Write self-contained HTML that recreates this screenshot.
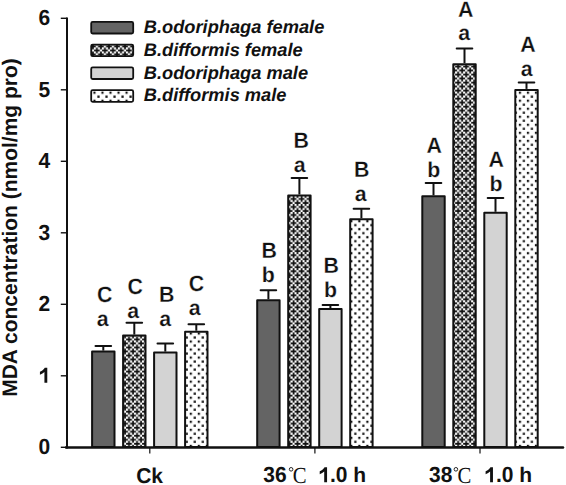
<!DOCTYPE html>
<html><head><meta charset="utf-8"><style>
html,body{margin:0;padding:0;background:#fff;}
svg{display:block;}
text{font-family:"Liberation Sans",sans-serif;text-rendering:geometricPrecision;}
.th{stroke:#fff;stroke-width:0.25px;}
</style></head><body>
<svg width="566" height="485" viewBox="0 0 566 485">
<defs>
<pattern id="px" patternUnits="userSpaceOnUse" width="8.027" height="8.027" x="5.6" y="3.3">
<rect width="8.1" height="8.1" fill="#111"/>
<g fill="#fff"><rect x="-0.1" y="-0.1" width="2.2" height="2.2"/><rect x="3.9" y="-0.1" width="2.2" height="2.2"/><rect x="1.9" y="1.9" width="2.2" height="2.2"/><rect x="-0.1" y="3.9" width="2.2" height="2.2"/><rect x="3.9" y="3.9" width="2.2" height="2.2"/><rect x="5.9" y="5.9" width="2.2" height="2.2"/><rect x="7.927" y="-0.1" width="2.2" height="2.2"/><rect x="7.927" y="3.9" width="2.2" height="2.2"/><rect x="-0.1" y="7.927" width="2.2" height="2.2"/><rect x="3.9" y="7.927" width="2.2" height="2.2"/><rect x="-2.127" y="5.9" width="2.2" height="2.2"/><rect x="5.9" y="-2.127" width="2.2" height="2.2"/></g>
</pattern>
<pattern id="pdot" patternUnits="userSpaceOnUse" width="8.027" height="8.027" x="5.17" y="3.4">
<rect width="8.1" height="8.1" fill="#fff"/>
<g fill="#111"><rect x="-0.1" y="-0.1" width="2.2" height="2.2"/><rect x="3.9" y="3.9" width="2.2" height="2.2"/><rect x="7.927" y="-0.1" width="2.2" height="2.2"/><rect x="-0.1" y="7.927" width="2.2" height="2.2"/><rect x="7.927" y="7.927" width="2.2" height="2.2"/></g>
</pattern>
</defs>
<rect width="566" height="485" fill="#fff"/>

<line x1="103.30" y1="350.60" x2="103.30" y2="346.00" stroke="#111" stroke-width="2"/>
<line x1="95.50" y1="346.00" x2="111.10" y2="346.00" stroke="#111" stroke-width="2" stroke-linecap="round"/>
<rect x="92.10" y="351.60" width="22.40" height="95.40" fill="#646464" stroke="#111" stroke-width="2.0" stroke-linejoin="round"/>
<text transform="translate(104.60,302.20) scale(1,1.04)" font-size="21.35" font-weight="bold" text-anchor="middle" fill="#111" class="th">C</text>
<text x="102.60" y="326.00" font-size="21.35" font-weight="bold" text-anchor="middle" fill="#111" class="th">a</text>
<line x1="134.30" y1="334.60" x2="134.30" y2="322.70" stroke="#111" stroke-width="2"/>
<line x1="126.50" y1="322.70" x2="142.10" y2="322.70" stroke="#111" stroke-width="2" stroke-linecap="round"/>
<rect x="123.10" y="335.60" width="22.40" height="111.40" fill="url(#px)" stroke="#111" stroke-width="2.0" stroke-linejoin="round"/>
<text transform="translate(135.30,293.90) scale(1,1.04)" font-size="21.35" font-weight="bold" text-anchor="middle" fill="#111" class="th">C</text>
<text x="133.10" y="318.00" font-size="21.35" font-weight="bold" text-anchor="middle" fill="#111" class="th">a</text>
<line x1="165.30" y1="351.60" x2="165.30" y2="343.60" stroke="#111" stroke-width="2"/>
<line x1="157.50" y1="343.60" x2="173.10" y2="343.60" stroke="#111" stroke-width="2" stroke-linecap="round"/>
<rect x="154.10" y="352.60" width="22.40" height="94.40" fill="#d3d3d3" stroke="#111" stroke-width="2.0" stroke-linejoin="round"/>
<text transform="translate(166.70,301.90) scale(1,1.04)" font-size="21.35" font-weight="bold" text-anchor="middle" fill="#111" class="th">B</text>
<text x="165.30" y="325.80" font-size="21.35" font-weight="bold" text-anchor="middle" fill="#111" class="th">a</text>
<line x1="196.30" y1="330.70" x2="196.30" y2="324.20" stroke="#111" stroke-width="2"/>
<line x1="188.50" y1="324.20" x2="204.10" y2="324.20" stroke="#111" stroke-width="2" stroke-linecap="round"/>
<rect x="185.10" y="331.70" width="22.40" height="115.30" fill="url(#pdot)" stroke="#111" stroke-width="2.0" stroke-linejoin="round"/>
<text transform="translate(196.50,291.40) scale(1,1.04)" font-size="21.35" font-weight="bold" text-anchor="middle" fill="#111" class="th">C</text>
<text x="194.60" y="315.00" font-size="21.35" font-weight="bold" text-anchor="middle" fill="#111" class="th">a</text>
<line x1="268.40" y1="299.30" x2="268.40" y2="290.20" stroke="#111" stroke-width="2"/>
<line x1="260.60" y1="290.20" x2="276.20" y2="290.20" stroke="#111" stroke-width="2" stroke-linecap="round"/>
<rect x="257.20" y="300.30" width="22.40" height="146.70" fill="#646464" stroke="#111" stroke-width="2.0" stroke-linejoin="round"/>
<text transform="translate(269.20,257.50) scale(1,1.04)" font-size="21.35" font-weight="bold" text-anchor="middle" fill="#111" class="th">B</text>
<text x="268.20" y="281.50" font-size="21.35" font-weight="bold" text-anchor="middle" fill="#111" class="th">b</text>
<line x1="299.40" y1="194.50" x2="299.40" y2="178.00" stroke="#111" stroke-width="2"/>
<line x1="291.60" y1="178.00" x2="307.20" y2="178.00" stroke="#111" stroke-width="2" stroke-linecap="round"/>
<rect x="288.20" y="195.50" width="22.40" height="251.50" fill="url(#px)" stroke="#111" stroke-width="2.0" stroke-linejoin="round"/>
<text transform="translate(301.20,147.50) scale(1,1.04)" font-size="21.35" font-weight="bold" text-anchor="middle" fill="#111" class="th">B</text>
<text x="299.60" y="171.80" font-size="21.35" font-weight="bold" text-anchor="middle" fill="#111" class="th">a</text>
<line x1="330.40" y1="308.00" x2="330.40" y2="304.90" stroke="#111" stroke-width="2"/>
<line x1="322.60" y1="304.90" x2="338.20" y2="304.90" stroke="#111" stroke-width="2" stroke-linecap="round"/>
<rect x="319.20" y="309.00" width="22.40" height="138.00" fill="#d3d3d3" stroke="#111" stroke-width="2.0" stroke-linejoin="round"/>
<text transform="translate(331.20,272.80) scale(1,1.04)" font-size="21.35" font-weight="bold" text-anchor="middle" fill="#111" class="th">B</text>
<text x="330.50" y="296.70" font-size="21.35" font-weight="bold" text-anchor="middle" fill="#111" class="th">b</text>
<line x1="361.40" y1="218.30" x2="361.40" y2="208.70" stroke="#111" stroke-width="2"/>
<line x1="353.60" y1="208.70" x2="369.20" y2="208.70" stroke="#111" stroke-width="2" stroke-linecap="round"/>
<rect x="350.20" y="219.30" width="22.40" height="227.70" fill="url(#pdot)" stroke="#111" stroke-width="2.0" stroke-linejoin="round"/>
<text transform="translate(361.80,177.10) scale(1,1.04)" font-size="21.35" font-weight="bold" text-anchor="middle" fill="#111" class="th">B</text>
<text x="360.80" y="200.60" font-size="21.35" font-weight="bold" text-anchor="middle" fill="#111" class="th">a</text>
<line x1="433.50" y1="195.30" x2="433.50" y2="183.00" stroke="#111" stroke-width="2"/>
<line x1="425.70" y1="183.00" x2="441.30" y2="183.00" stroke="#111" stroke-width="2" stroke-linecap="round"/>
<rect x="422.30" y="196.30" width="22.40" height="250.70" fill="#646464" stroke="#111" stroke-width="2.0" stroke-linejoin="round"/>
<text transform="translate(434.30,152.50) scale(1,1.04)" font-size="21.35" font-weight="bold" text-anchor="middle" fill="#111" class="th">A</text>
<text x="433.80" y="176.80" font-size="21.35" font-weight="bold" text-anchor="middle" fill="#111" class="th">b</text>
<line x1="464.50" y1="63.20" x2="464.50" y2="48.40" stroke="#111" stroke-width="2"/>
<line x1="456.70" y1="48.40" x2="472.30" y2="48.40" stroke="#111" stroke-width="2" stroke-linecap="round"/>
<rect x="453.30" y="64.20" width="22.40" height="382.80" fill="url(#px)" stroke="#111" stroke-width="2.0" stroke-linejoin="round"/>
<text transform="translate(465.70,16.70) scale(1,1.04)" font-size="21.35" font-weight="bold" text-anchor="middle" fill="#111" class="th">A</text>
<text x="464.30" y="40.20" font-size="21.35" font-weight="bold" text-anchor="middle" fill="#111" class="th">a</text>
<line x1="495.50" y1="211.80" x2="495.50" y2="198.00" stroke="#111" stroke-width="2"/>
<line x1="487.70" y1="198.00" x2="503.30" y2="198.00" stroke="#111" stroke-width="2" stroke-linecap="round"/>
<rect x="484.30" y="212.80" width="22.40" height="234.20" fill="#d3d3d3" stroke="#111" stroke-width="2.0" stroke-linejoin="round"/>
<text transform="translate(496.30,167.40) scale(1,1.04)" font-size="21.35" font-weight="bold" text-anchor="middle" fill="#111" class="th">A</text>
<text x="496.10" y="191.00" font-size="21.35" font-weight="bold" text-anchor="middle" fill="#111" class="th">b</text>
<line x1="526.50" y1="88.90" x2="526.50" y2="82.60" stroke="#111" stroke-width="2"/>
<line x1="518.70" y1="82.60" x2="534.30" y2="82.60" stroke="#111" stroke-width="2" stroke-linecap="round"/>
<rect x="515.30" y="89.90" width="22.40" height="357.10" fill="url(#pdot)" stroke="#111" stroke-width="2.0" stroke-linejoin="round"/>
<text transform="translate(527.90,52.40) scale(1,1.04)" font-size="21.35" font-weight="bold" text-anchor="middle" fill="#111" class="th">A</text>
<text x="526.60" y="76.00" font-size="21.35" font-weight="bold" text-anchor="middle" fill="#111" class="th">a</text>
<line x1="67" y1="17.5" x2="67" y2="448.5" stroke="#111" stroke-width="2"/>
<line x1="66" y1="447.5" x2="563" y2="447.5" stroke="#111" stroke-width="2.5" stroke-linecap="round"/>
<line x1="60.8" y1="447.30" x2="67" y2="447.30" stroke="#111" stroke-width="1.4"/>
<text transform="translate(50.20,454.30) scale(1,1.04)" font-size="21" font-weight="bold" text-anchor="end" fill="#111">0</text>
<line x1="60.8" y1="375.80" x2="67" y2="375.80" stroke="#111" stroke-width="1.4"/>
<path d="M854 0L576 0L576 1050Q400 900 138 795L138 1073Q300 1140 430 1250Q560 1360 610 1466L854 1466Z" transform="translate(38.52,382.80) scale(0.010254,-0.010254)" fill="#111"/>
<line x1="60.8" y1="304.30" x2="67" y2="304.30" stroke="#111" stroke-width="1.4"/>
<text transform="translate(50.20,311.30) scale(1,1.04)" font-size="21" font-weight="bold" text-anchor="end" fill="#111">2</text>
<line x1="60.8" y1="232.80" x2="67" y2="232.80" stroke="#111" stroke-width="1.4"/>
<text transform="translate(50.20,239.80) scale(1,1.04)" font-size="21" font-weight="bold" text-anchor="end" fill="#111">3</text>
<line x1="60.8" y1="161.30" x2="67" y2="161.30" stroke="#111" stroke-width="1.4"/>
<text transform="translate(50.20,168.30) scale(1,1.04)" font-size="21" font-weight="bold" text-anchor="end" fill="#111">4</text>
<line x1="60.8" y1="89.80" x2="67" y2="89.80" stroke="#111" stroke-width="1.4"/>
<text transform="translate(50.20,96.80) scale(1,1.04)" font-size="21" font-weight="bold" text-anchor="end" fill="#111">5</text>
<line x1="60.8" y1="18.30" x2="67" y2="18.30" stroke="#111" stroke-width="1.4"/>
<text transform="translate(50.20,25.30) scale(1,1.04)" font-size="21" font-weight="bold" text-anchor="end" fill="#111">6</text>
<line x1="149.80" y1="448" x2="149.80" y2="453.5" stroke="#111" stroke-width="1.2"/>
<line x1="314.90" y1="448" x2="314.90" y2="453.5" stroke="#111" stroke-width="1.2"/>
<line x1="480.00" y1="448" x2="480.00" y2="453.5" stroke="#111" stroke-width="1.2"/>
<text transform="translate(149.60,482.50) scale(1,1.02)" font-size="21" font-weight="bold" text-anchor="middle" fill="#111">Ck</text>
<text transform="translate(263.20,482.30) scale(1,1.04)" font-size="21" font-weight="bold" fill="#111">36</text><circle cx="291.10" cy="469.3" r="1.8" fill="none" stroke="#111" stroke-width="0.9"/><text transform="translate(292.80,482.8) scale(0.9,1)" x="0" y="0" font-size="23" fill="#111" style="font-family:'Liberation Serif',serif">C</text><path d="M854 0L576 0L576 1050Q400 900 138 795L138 1073Q300 1140 430 1250Q560 1360 610 1466L854 1466Z" transform="translate(318.30,482.30) scale(0.010254,-0.010254)" fill="#111"/><text transform="translate(329.98,482.30) scale(1,1.04)" font-size="21" font-weight="bold" fill="#111">.0</text><text x="353.33" y="482.30" font-size="21" font-weight="bold" fill="#111">h</text>
<text transform="translate(429.10,482.30) scale(1,1.04)" font-size="21" font-weight="bold" fill="#111">38</text><circle cx="455.90" cy="469.3" r="1.8" fill="none" stroke="#111" stroke-width="0.9"/><text transform="translate(457.60,482.8) scale(0.9,1)" x="0" y="0" font-size="23" fill="#111" style="font-family:'Liberation Serif',serif">C</text><path d="M854 0L576 0L576 1050Q400 900 138 795L138 1073Q300 1140 430 1250Q560 1360 610 1466L854 1466Z" transform="translate(484.20,482.30) scale(0.010254,-0.010254)" fill="#111"/><text transform="translate(495.88,482.30) scale(1,1.04)" font-size="21" font-weight="bold" fill="#111">.0</text><text x="519.23" y="482.30" font-size="21" font-weight="bold" fill="#111">h</text>
<text transform="translate(17.2,227.5) rotate(-90)" x="0" y="0" font-size="21" font-weight="bold" text-anchor="middle" fill="#111">MDA concentration (nmol/mg pro)</text>
<rect x="91.2" y="21.90" width="42" height="11.6" rx="1.5" fill="#646464" stroke="#111" stroke-width="1.8"/>
<text x="143.8" y="33.30" font-size="18.25" font-weight="bold" font-style="italic" fill="#111">B.odoriphaga female</text>
<rect x="91.2" y="44.60" width="42" height="11.6" rx="1.5" fill="url(#px)" stroke="#111" stroke-width="1.8"/>
<text x="143.8" y="56.00" font-size="18.25" font-weight="bold" font-style="italic" fill="#111">B.difformis female</text>
<rect x="91.2" y="67.40" width="42" height="11.6" rx="1.5" fill="#d3d3d3" stroke="#111" stroke-width="1.8"/>
<text x="143.8" y="78.70" font-size="18.25" font-weight="bold" font-style="italic" fill="#111">B.odoriphaga male</text>
<rect x="91.2" y="90.20" width="42" height="11.6" rx="1.5" fill="url(#pdot)" stroke="#111" stroke-width="1.8"/>
<text x="143.8" y="101.40" font-size="18.25" font-weight="bold" font-style="italic" fill="#111">B.difformis male</text>
</svg></body></html>
